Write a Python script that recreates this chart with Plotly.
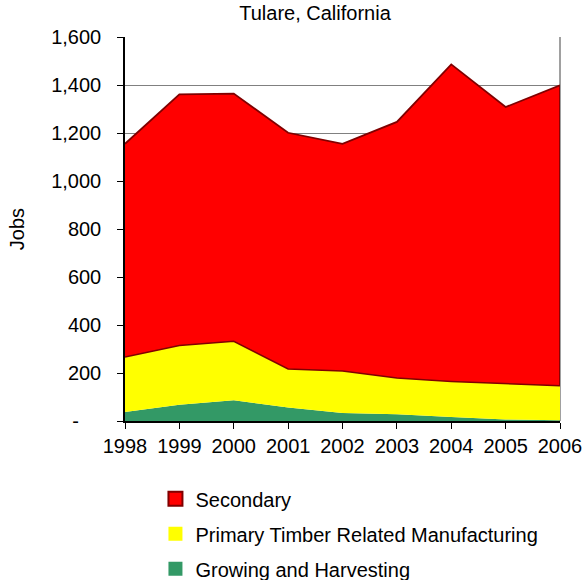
import plotly.graph_objects as go

years = [1998, 1999, 2000, 2001, 2002, 2003, 2004, 2005, 2006]
growing = [37, 68, 86, 56, 33, 28, 17, 6, 3]
primary = [230, 247, 246, 161, 175, 151, 148, 150, 144]
secondary = [888, 1046, 1032, 984, 947, 1067, 1321, 1152, 1252]

y_tickvals = [0, 200, 400, 600, 800, 1000, 1200, 1400, 1600]
y_ticktext = ["-\u00a0\u00a0\u00a0\u00a0", "200", "400", "600", "800", "1,000", "1,200", "1,400", "1,600"]

names = ["Secondary", "Primary Timber Related Manufacturing", "Growing and Harvesting"]
fills = {"Secondary": "#FF0000", "Primary Timber Related Manufacturing": "#FFFF00",
         "Growing and Harvesting": "#339966"}
dark_red = "#800000"
FONT = "Liberation Sans, Arial, sans-serif"

fig = go.Figure()
fig.add_trace(go.Scatter(x=years, y=growing, stackgroup="one", mode="lines",
                         line=dict(width=0, color=fills["Growing and Harvesting"]),
                         fillcolor=fills["Growing and Harvesting"], showlegend=False))
fig.add_trace(go.Scatter(x=years, y=primary, stackgroup="one", mode="lines",
                         line=dict(width=1.5, color=dark_red),
                         fillcolor=fills["Primary Timber Related Manufacturing"], showlegend=False))
fig.add_trace(go.Scatter(x=years, y=secondary, stackgroup="one", mode="lines",
                         line=dict(width=1.8, color=dark_red),
                         fillcolor=fills["Secondary"], showlegend=False))
# right edge outline of the secondary area
lower = growing[-1] + primary[-1]
upper = lower + secondary[-1]
fig.add_trace(go.Scatter(x=[years[-1], years[-1]], y=[lower, upper], mode="lines",
                         line=dict(width=1.8, color=dark_red), showlegend=False))

# legend entries
legend_style = {
    "Secondary": dict(color="#FF0000", line=dict(color=dark_red, width=2)),
    "Primary Timber Related Manufacturing": dict(color="#FFFF00", line=dict(width=0)),
    "Growing and Harvesting": dict(color="#339966", line=dict(width=0)),
}
for n in names:
    fig.add_trace(go.Scatter(x=[None], y=[None], mode="markers", name=n, legendgroup=n,
                             marker=dict(symbol="square", size=14, **legend_style[n])))

fig.update_layout(
    width=586, height=580,
    margin=dict(l=125, r=26, t=37, b=159, autoexpand=False),
    paper_bgcolor="white", plot_bgcolor="white",
    font=dict(family=FONT, size=20, color="black"),
    title=dict(text="Tulare, California", x=315 / 586, xanchor="center", xref="container",
               y=1 - 13 / 580, yanchor="middle", font=dict(size=20)),
    showlegend=True,
    legend=dict(x=0.07, xanchor="left", y=-0.152, yanchor="top", tracegroupgap=6,
                font=dict(size=20), bgcolor="rgba(0,0,0,0)"),
    xaxis=dict(range=[1998, 2006], tickvals=years, ticktext=[str(y) for y in years],
               showline=True, linecolor="black", linewidth=1.5, ticks="outside",
               ticklen=6, tickcolor="black", showgrid=False, zeroline=False,
               tickfont=dict(size=20), automargin=False),
    yaxis=dict(range=[0, 1600], tickvals=y_tickvals, ticktext=y_ticktext,
               showline=True, linecolor="black", linewidth=1.5, ticks="outside",
               ticklen=6, tickcolor="black", showgrid=True, gridcolor="#808080",
               gridwidth=1.2, zeroline=False, tickfont=dict(size=20),
               ticklabelstandoff=12, automargin=False,
               title=dict(text="Jobs", font=dict(size=20), standoff=21)),
    shapes=[dict(type="line", xref="paper", yref="paper", x0=1, x1=1, y0=0, y1=1,
                 line=dict(color="#808080", width=1.5), layer="below")],
)

fig.write_html("out.html", config={"displayModeBar": False},
               post_script="document.body.style.margin='0';document.body.style.overflow='hidden';")
